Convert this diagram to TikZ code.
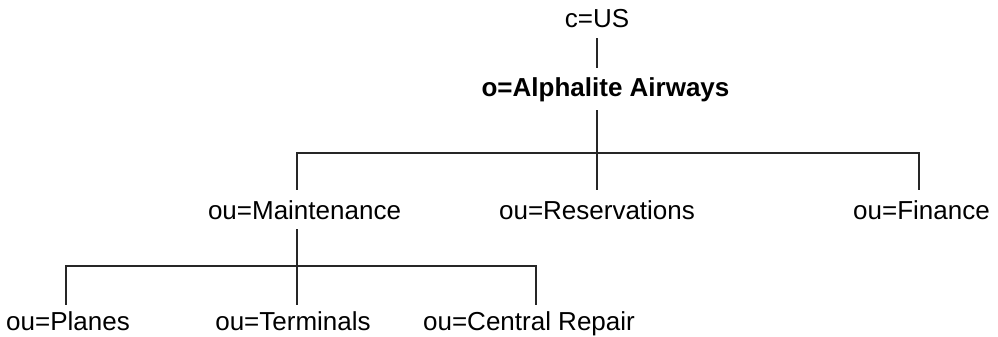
\documentclass[tikz,border=0pt]{standalone}
\usepackage{fontspec}
\setmainfont{Liberation Sans}
\begin{document}
\begin{tikzpicture}[x=1pt,y=-1pt,
  entry/.style={inner sep=0pt, anchor=base, font=\fontsize{26}{30}\selectfont,
                text height=18pt, text depth=0pt},
  orgentry/.style={entry, font=\fontsize{26}{30}\selectfont\bfseries},
  link/.style={line width=1.3pt, draw=black!85}]
\useasboundingbox (0,0) rectangle (998,337);

% directory entries
\node[entry]    (us)     at (597,28)    {c=US};
\node[orgentry] (org)    at (605.5,96)  {o=Alphalite Airways};
\node[entry]    (maint)  at (304.5,219) {ou=Maintenance};
\node[entry]    (res)    at (597,219)   {ou=Reservations};
\node[entry]    (fin)    at (921.5,219) {ou=Finance};
\node[entry]    (planes) at (68,330)    {ou=Planes};
\node[entry]    (term)   at (293,330)   {ou=Terminals};
\node[entry]    (repair) at (529,330)   {ou=Central Repair};

% junction points of the tree
\coordinate (busl)   at (297,153);
\coordinate (busm)   at (597,153);
\coordinate (busr)   at (919,153);
\coordinate (subl)   at (66,266);
\coordinate (subm)   at (297,266);
\coordinate (subr)   at (536,266);

% c=US -> organisation
\draw[link] ([yshift=-10pt]us.south) -- ([yshift=10pt]org.north -| us.south);
% organisation -> units
\draw[link] ([yshift=-14pt]org.south -| busm) -- (busm) -- ([yshift=11pt]res.north -| busm);
\draw[link] ([yshift=11pt]maint.north -| busl) -- (busl) -- (busr)
            -- ([yshift=11pt]fin.north -| busr);
% maintenance -> sub-units
\draw[link] ([yshift=-10pt]maint.south -| subm) -- (subm) -- ([yshift=7pt]term.north -| subm);
\draw[link] ([yshift=7pt]planes.north -| subl) -- (subl) -- (subr)
            -- ([yshift=7pt]repair.north -| subr);
\end{tikzpicture}
\end{document}
